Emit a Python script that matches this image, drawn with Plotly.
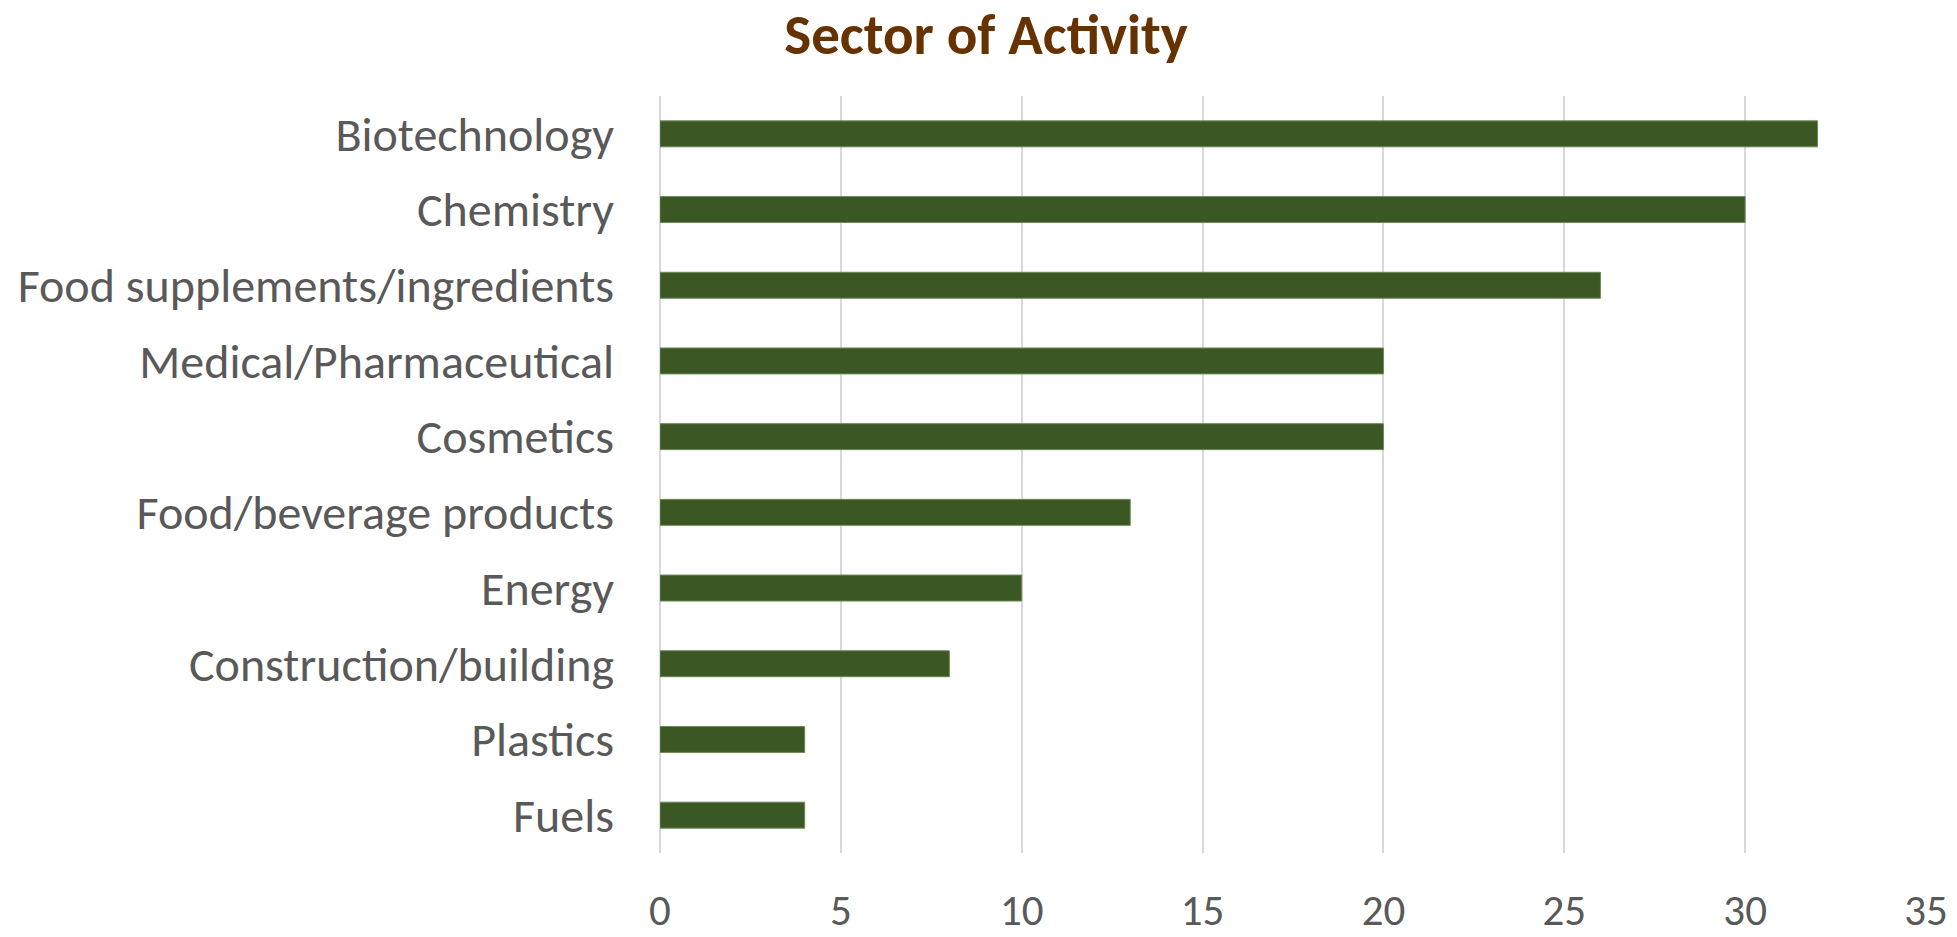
import plotly.graph_objects as go

categories = ["Biotechnology", "Chemistry", "Food supplements/ingredients",
              "Medical/Pharmaceutical", "Cosmetics", "Food/beverage products",
              "Energy", "Construction/building", "Plastics", "Fuels"]
values = [32, 30, 26, 20, 20, 13, 10, 8, 4, 4]
x_ticks = [0, 5, 10, 15, 20, 25, 30, 35]

FONT = "Carlito, Calibri, Lato, sans-serif"
W, H = 1949, 929  # page body adds an 8px offset

fig = go.Figure(go.Bar(
    x=values, y=categories, orientation="h",
    marker=dict(color="#3b5724", line=dict(color="#6b8a55", width=1)),
))

fig.update_layout(
    width=W, height=H,
    paper_bgcolor="white", plot_bgcolor="white",
    margin=dict(l=652, r=31, t=88, b=84),
    bargap=0.657,
    showlegend=False,
    title=dict(text="<b>Sector of Activity</b>", x=978 / W, y=1 - 26 / H,
               xanchor="center", yanchor="middle",
               font=dict(family=FONT, size=57, color="#663300")),
    font=dict(family=FONT, color="#595959"),
)
fig.update_xaxes(range=[0, 35], tickvals=x_ticks, showgrid=True,
                 gridcolor="#d9d9d9", gridwidth=2, zeroline=True,
                 zerolinecolor="#d9d9d9", zerolinewidth=2, showline=False,
                 ticks="", tickfont=dict(size=43, color="#595959"),
                 ticklabelstandoff=28, automargin=False)
fig.update_yaxes(autorange="reversed", showgrid=False, showline=False,
                 ticks="", tickfont=dict(size=48, color="#595959"),
                 ticklabelstandoff=45, automargin=False)

fig.write_html("out.html")
